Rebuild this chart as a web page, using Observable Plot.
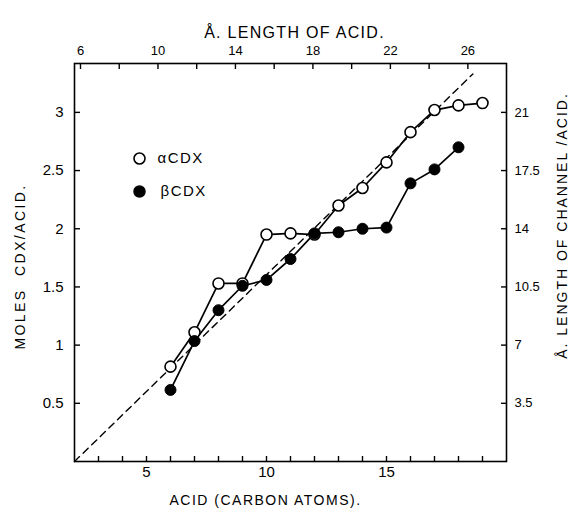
<!DOCTYPE html>
<html><head><meta charset="utf-8">
<script src="https://cdn.jsdelivr.net/npm/d3@7"></script>
<script src="https://cdn.jsdelivr.net/npm/@observablehq/plot@0.6"></script>
<style>body{margin:0;background:#fff}</style>
</head><body><div id="chart"></div>
<script>
// ---- data ----
const carbonAlpha = [6, 7, 8, 9, 10, 11, 12, 13, 14, 15, 16, 17, 18, 19];
const molesAlpha  = [0.815, 1.11, 1.53, 1.53, 1.95, 1.96, 1.95, 2.20, 2.35, 2.57, 2.83, 3.02, 3.06, 3.08];
const carbonBeta  = [6, 7, 8, 9, 10, 11, 12, 13, 14, 15, 16, 17, 18];
const molesBeta   = [0.615, 1.035, 1.30, 1.51, 1.56, 1.74, 1.96, 1.97, 2.00, 2.01, 2.39, 2.51, 2.70];
const refCarbon = [2, 18.6];
const refMoles  = [0, 3.33];
const seriesNames = ["αCDX", "βCDX"];

// ---- tick labels ----
const xTicks = [3,4,5,6,7,8,9,10,11,12,13,14,15,16,17,18,19];
const xLabels = [5, 10, 15];
const yTicks = [0.5, 1, 1.5, 2, 2.5, 3];
const channelTicks = [3.5, 7, 10.5, 14, 17.5, 21];
const acidLengthTicks = [6, 8, 10, 12, 14, 16, 18, 20, 22, 24, 26];
const acidLengthLabels = [6, 10, 14, 18, 22, 26];

const topTitle = "Å. LENGTH OF ACID.";
const bottomTitle = "ACID (CARBON ATOMS).";
const leftTitle = "MOLES\u00a0\u00a0CDX/ACID.";
const rightTitle = "Å. LENGTH OF CHANNEL /ACID.";

// unit conversions for the secondary axes
const channelToMoles = a => a / 7;
const acidLengthToCarbon = a => 2.25 + 0.807 * (a - 6);

const alpha = carbonAlpha.map((c, i) => ({c, m: molesAlpha[i]}));
const beta = carbonBeta.map((c, i) => ({c, m: molesBeta[i]}));
const ref = refCarbon.map((c, i) => ({c, m: refMoles[i]}));

const chart = Plot.plot({
  width: 573, height: 512,
  marginLeft: 74, marginRight: 67, marginTop: 63, marginBottom: 51,
  style: {fontFamily: "'Liberation Sans', Arial, sans-serif", fontSize: "15px", color: "black", background: "white"},
  x: {domain: [2, 20], axis: null, label: null},
  y: {domain: [0, 3.42], axis: null, label: null},
  marks: [
    Plot.line(ref, {x: "c", y: "m", stroke: "black", strokeWidth: 1.4, strokeDasharray: "7,5"}),
    Plot.line(beta, {x: "c", y: "m", stroke: "black", strokeWidth: 1.7}),
    Plot.line(alpha, {x: "c", y: "m", stroke: "black", strokeWidth: 1.7}),
    Plot.dot(alpha, {x: "c", y: "m", r: 5.5, fill: "white", stroke: "black", strokeWidth: 1.6}),
    Plot.dot(beta, {x: "c", y: "m", r: 5.5, fill: "black", stroke: "black", strokeWidth: 1}),
    Plot.frame({stroke: "black", strokeWidth: 1.6}),
    Plot.axisX(xTicks, {anchor: "bottom", label: null, tickSize: -5, tickPadding: 10, fontSize: 15, strokeWidth: 1.4,
      tickFormat: d => xLabels.includes(d) ? String(d) : ""}),
    Plot.axisX(acidLengthTicks, {anchor: "top", label: null, x: acidLengthToCarbon, tickSize: -5, tickPadding: 14, fontSize: 13, strokeWidth: 1.4,
      tickFormat: d => acidLengthLabels.includes(d) ? String(d) : ""}),
    Plot.axisY(yTicks, {anchor: "left", label: null, tickSize: -6, tickPadding: 17, fontSize: 15, strokeWidth: 1.4,
      tickFormat: d => String(d)}),
    Plot.axisY(channelTicks, {anchor: "right", label: null, y: channelToMoles, tickSize: -6, tickPadding: 14, fontSize: 13, strokeWidth: 1.4,
      tickFormat: d => String(d)}),
    // axis titles
    Plot.text([topTitle], {frameAnchor: "top", dx: 4, dy: -37, textAnchor: "middle", lineAnchor: "top", fontSize: 16, text: d => d}),
    Plot.text([bottomTitle], {frameAnchor: "bottom", dx: -25, dy: 34, textAnchor: "middle", lineAnchor: "top", fontSize: 14, text: d => d}),
    Plot.text([leftTitle], {frameAnchor: "left", dx: -54, dy: 4, rotate: -90, textAnchor: "middle", lineAnchor: "middle", fontSize: 14, text: d => d}),
    Plot.text([rightTitle], {frameAnchor: "right", dx: 56, dy: -37, rotate: -90, textAnchor: "middle", lineAnchor: "middle", fontSize: 14, text: d => d}),
    // legend
    Plot.dot([seriesNames[0]], {frameAnchor: "top-left", dx: 65, dy: 95, r: 5.5, fill: "white", stroke: "black", strokeWidth: 1.6}),
    Plot.dot([seriesNames[1]], {frameAnchor: "top-left", dx: 65, dy: 128, r: 5.5, fill: "black", stroke: "black"}),
    Plot.text([seriesNames[0]], {frameAnchor: "top-left", dx: 83, dy: 95, textAnchor: "start", lineAnchor: "middle", fontSize: 15, text: d => d}),
    Plot.text([seriesNames[1]], {frameAnchor: "top-left", dx: 86, dy: 128, textAnchor: "start", lineAnchor: "middle", fontSize: 15, text: d => d})
  ]
});
document.getElementById("chart").appendChild(chart);

// letter spacing of the hand-lettered titles
const spaced = {[topTitle]: "1.3px", [bottomTitle]: "1.5px", [leftTitle]: "2.4px", [rightTitle]: "2px", [seriesNames[0]]: "1.5px", [seriesNames[1]]: "1.5px"};
d3.select(chart).selectAll("text").each(function () {
  const s = spaced[this.textContent];
  if (s) this.style.letterSpacing = s;
});
</script>
</body></html>
